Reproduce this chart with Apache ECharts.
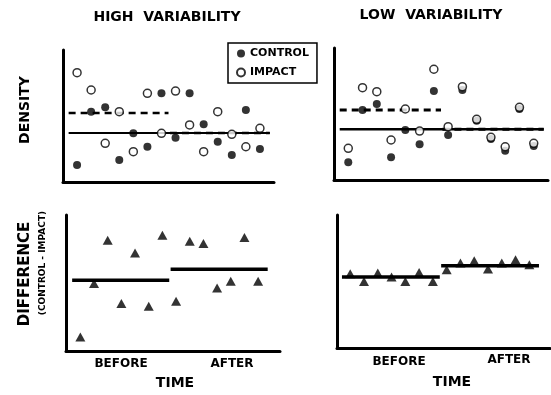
<!DOCTYPE html>
<html>
<head>
<meta charset="utf-8">
<script src="https://cdn.jsdelivr.net/npm/echarts@6/dist/echarts.min.js"></script>
<style>
  html, body { margin: 0; padding: 0; background: #fff; }
  #chart { width: 551px; height: 395px; }
</style>
</head>
<body>
<div id="chart"></div>
<script>
// sampling dates, 7 before and 7 after
var time = [1, 2, 3, 4, 5, 6, 7, 8, 9, 10, 11, 12, 13, 14];

// density, high variability panel
var hiControl = [12.9, 53.3, 56.6, 16.7, 36.9, 26.7, 67.2, 33.6, 67.2, 43.7, 30.5, 20.5, 54.5, 25.0];
var hiImpact = [82.8, 69.7, 29.3, 53.3, 23.0, 67.2, 36.9, 68.9, 43.2, 23.0, 53.3, 36.1, 26.7, 40.7];
// density, low variability panel
var loControl = [13.4, 53.0, 57.6, 17.2, 37.9, 27.0, 67.4, 34.1, 68.2, 44.9, 31.1, 22.2, 53.8, 25.8];
var loImpact = [24.0, 69.9, 66.9, 30.3, 53.8, 37.1, 83.9, 40.4, 70.7, 46.0, 32.3, 25.2, 55.1, 27.8];

// differences (control - impact)
var hiDiff = [14.0, 67.4, 110.7, 47.4, 98.0, 44.7, 115.7, 49.7, 109.7, 107.4, 63.0, 69.7, 113.4, 69.7];
var loDiff = [74.3, 66.6, 75.0, 71.0, 66.6, 75.6, 66.6, 78.3, 85.0, 87.3, 79.0, 85.0, 88.3, 83.3];

// period means [before, after]
var hiControlMean = [37.1, 37.1];
var hiImpactMean = [52.3, 37.1];
var loControlMean = [38.4, 38.4];
var loImpactMean = [53.0, 38.4];
var hiDiffMean = [70.7, 81.7];
var loDiffMean = [71.0, 82.3];
var periodFrom = [0.4, 7.6];
var periodTo = [7.5, 14.7];

var FONT = 'DejaVu Sans';

function pairs(xs, ys) {
    return xs.map(function (x, i) { return [x, ys[i]]; });
}

function meanSeg(means, idx) {
    return [[periodFrom[idx], means[idx]], [periodTo[idx], means[idx]]];
}

function meanLine(name, gi, data, width, dashed) {
    return {
        name: name, type: 'line', xAxisIndex: gi, yAxisIndex: gi,
        data: data, symbol: 'none', silent: true, z: 5,
        lineStyle: { color: '#000', width: width, type: dashed ? [7, 5] : 'solid' }
    };
}

function controlDots(gi, ys) {
    return {
        name: 'CONTROL', type: 'scatter', xAxisIndex: gi, yAxisIndex: gi,
        data: pairs(time, ys), symbol: 'circle', symbolSize: 8, z: 4,
        itemStyle: { color: '#000' }
    };
}

function impactDots(gi, ys) {
    return {
        name: 'IMPACT', type: 'scatter', xAxisIndex: gi, yAxisIndex: gi,
        data: pairs(time, ys), symbol: 'circle', symbolSize: 8, z: 6,
        itemStyle: { color: '#fff', borderColor: '#000', borderWidth: 1.5 }
    };
}

function triangles(gi, ys) {
    return {
        name: 'DIFF', type: 'scatter', xAxisIndex: gi, yAxisIndex: gi,
        data: pairs(time, ys), symbol: 'triangle', symbolSize: [10, 9], z: 4,
        itemStyle: { color: '#000' }
    };
}

var axisLine = { show: true, onZero: false, lineStyle: { color: '#000', width: 3 } };

function xAx(gi, min, max) {
    return {
        type: 'value', gridIndex: gi, min: min, max: max,
        axisLine: axisLine, axisTick: { show: false }, axisLabel: { show: false },
        splitLine: { show: false }
    };
}

function yAx(gi, max) {
    return {
        type: 'value', gridIndex: gi, min: 0, max: max,
        axisLine: axisLine, axisTick: { show: false }, axisLabel: { show: false },
        splitLine: { show: false }
    };
}

function label(text, x, y, size, rot) {
    return {
        type: 'text', x: x, y: y, rotation: rot || 0,
        style: {
            text: text, fill: '#000', align: 'center', verticalAlign: 'middle',
            font: 'bold ' + size + 'px "' + FONT + '"'
        }
    };
}

var chart = echarts.init(document.getElementById('chart'), null, { renderer: 'canvas' });

var option = {
    backgroundColor: '#fff',
    animation: false,
    grid: [
        { left: 63, top: 50, width: 211, height: 132 },
        { left: 334, top: 48, width: 214, height: 132 },
        { left: 66, top: 215, width: 214, height: 136 },
        { left: 337, top: 215, width: 213, height: 133 }
    ],
    xAxis: [xAx(0, 0, 15), xAx(1, 0, 15), xAx(2, -0.05, 15.6), xAx(3, 0.04, 15.5)],
    yAxis: [yAx(0, 100), yAx(1, 100), yAx(2, 136), yAx(3, 133)],
    legend: {
        data: [{ name: 'CONTROL', icon: 'circle' }, { name: 'IMPACT', icon: 'circle' }],
        orient: 'vertical', left: 228, top: 43,
        borderColor: '#000', borderWidth: 1.5, borderRadius: 0,
        padding: [5, 8, 5, 8], itemGap: 8, itemWidth: 8, itemHeight: 8,
        textStyle: { fontFamily: FONT, fontWeight: 'bold', fontSize: 11, color: '#000' },
        selectedMode: false
    },
    graphic: [
        label('HIGH  VARIABILITY', 167, 17, 14),
        label('LOW  VARIABILITY', 431, 15, 14),
        label('DENSITY', 25, 110, 14, Math.PI / 2),
        label('DIFFERENCE', 25, 274, 15, Math.PI / 2),
        label('(CONTROL - IMPACT)', 43, 263, 9, Math.PI / 2),
        label('BEFORE', 121, 364, 12),
        label('AFTER', 232, 364, 12),
        label('TIME', 175, 383, 14),
        label('BEFORE', 399, 362, 12),
        label('AFTER', 509, 360, 12),
        label('TIME', 452, 382, 14)
    ],
    series: [
        controlDots(0, hiControl),
        impactDots(0, hiImpact),
        meanLine('ctrl-mean', 0, [[periodFrom[0], hiControlMean[0]], [periodTo[1], hiControlMean[1]]], 2, false),
        meanLine('imp-before', 0, meanSeg(hiImpactMean, 0), 2.5, true),
        meanLine('imp-after', 0, meanSeg(hiImpactMean, 1), 2.5, true),

        controlDots(1, loControl),
        impactDots(1, loImpact),
        meanLine('ctrl-mean', 1, [[periodFrom[0], loControlMean[0]], [periodTo[1], loControlMean[1]]], 2.5, false),
        meanLine('imp-before', 1, meanSeg(loImpactMean, 0), 3, true),
        meanLine('imp-after', 1, meanSeg(loImpactMean, 1), 3, true),

        triangles(2, hiDiff),
        meanLine('diff-before', 2, meanSeg(hiDiffMean, 0), 3.5, false),
        meanLine('diff-after', 2, meanSeg(hiDiffMean, 1), 3.5, false),

        triangles(3, loDiff),
        meanLine('diff-before', 3, meanSeg(loDiffMean, 0), 3.5, false),
        meanLine('diff-after', 3, meanSeg(loDiffMean, 1), 3.5, false)
    ]
};

chart.setOption(option);
</script>
</body>
</html>
